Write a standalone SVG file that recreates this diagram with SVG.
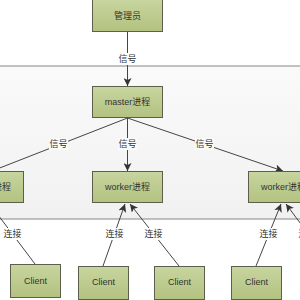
<svg xmlns="http://www.w3.org/2000/svg" width="300" height="300" viewBox="0 0 300 300">
<defs>
<linearGradient id="g" x1="0" y1="0" x2="0" y2="1"><stop offset="0" stop-color="#c7d59f"/><stop offset="1" stop-color="#b3c280"/></linearGradient>
<linearGradient id="band" x1="0" y1="0" x2="0" y2="1"><stop offset="0" stop-color="#fafafa"/><stop offset="1" stop-color="#f1f1f1"/></linearGradient>
<marker id="a" viewBox="0 0 10 10" refX="10" refY="5" markerWidth="8" markerHeight="8" markerUnits="userSpaceOnUse" orient="auto"><path d="M0,0 L10,5 L0,10 L2.5,5 z" fill="#333"/></marker>
<style>
.box{fill:url(#g);stroke:#5e5e4c;stroke-width:1}
.t{font-family:"Liberation Sans","Noto Sans CJK SC",sans-serif;font-size:9px;fill:#333;text-anchor:middle;dominant-baseline:central}
.c{stroke:#444;stroke-width:1;fill:none}
.lb{fill:#fafafa}
.lw{fill:#ffffff}
</style>
</defs>
<rect width="300" height="300" fill="#fff"/>
<rect x="-1" y="66" width="302" height="153" fill="url(#band)" stroke="#9a9a9a" stroke-width="1.2"/>
<g id="connectors">
<line class="c" x1="127.5" y1="32" x2="127.5" y2="86" marker-end="url(#a)"/>
<line class="c" x1="127.5" y1="118" x2="-8" y2="171" marker-end="url(#a)"/>
<line class="c" x1="127.5" y1="118" x2="127.5" y2="171" marker-end="url(#a)"/>
<line class="c" x1="127.5" y1="118" x2="283" y2="171" marker-end="url(#a)"/>
<line class="c" x1="35" y1="264" x2="-11" y2="203" marker-end="url(#a)"/>
<line class="c" x1="103" y1="266" x2="125" y2="204" marker-end="url(#a)"/>
<line class="c" x1="179" y1="266" x2="130" y2="204" marker-end="url(#a)"/>
<line class="c" x1="256" y1="266" x2="281" y2="204" marker-end="url(#a)"/>
<line class="c" x1="332" y1="266" x2="286" y2="204" marker-end="url(#a)"/>
<rect class="lw" x="118" y="53" width="19" height="12"/><text class="t" x="127.5" y="59">信号</text>
<rect class="lb" x="49" y="138" width="19" height="12"/><text class="t" x="58.5" y="144">信号</text>
<rect class="lb" x="118" y="138" width="19" height="12"/><text class="t" x="127.5" y="144">信号</text>
<rect class="lb" x="195" y="138" width="19" height="12"/><text class="t" x="204.5" y="144">信号</text>
<rect class="lw" x="3" y="228" width="19" height="12"/><text class="t" x="12.5" y="234">连接</text>
<rect class="lw" x="105" y="228" width="19" height="12"/><text class="t" x="114.5" y="234">连接</text>
<rect class="lw" x="144" y="228" width="19" height="12"/><text class="t" x="153.5" y="234">连接</text>
<rect class="lw" x="259" y="228" width="19" height="12"/><text class="t" x="268.5" y="234">连接</text>
<rect class="lw" x="298" y="228" width="19" height="12"/><text class="t" x="307.5" y="234">连接</text>
</g>
<g id="admin"><rect class="box" x="92.5" y="-0.5" width="70" height="32"/><text class="t" x="127.5" y="16">管理员</text></g>
<g id="master"><rect class="box" x="92.5" y="86.5" width="70" height="31"/><text class="t" x="127.5" y="102">master进程</text></g>
<g id="worker-left"><rect class="box" x="-46.5" y="171.5" width="70" height="31"/><text class="t" x="-11.5" y="187">worker进程</text></g>
<g id="worker-mid"><rect class="box" x="92.5" y="171.5" width="70" height="31"/><text class="t" x="127.5" y="187">worker进程</text></g>
<g id="worker-right"><rect class="box" x="248.5" y="171.5" width="70" height="31"/><text class="t" x="283.5" y="187">worker进程</text></g>
<g id="client1"><rect class="box" x="10.5" y="264.5" width="50" height="33"/><text class="t" x="35.5" y="281">Client</text></g>
<g id="client2"><rect class="box" x="78.5" y="266.5" width="50" height="33"/><text class="t" x="103.5" y="282">Client</text></g>
<g id="client3"><rect class="box" x="154.5" y="266.5" width="50" height="33"/><text class="t" x="179.5" y="282">Client</text></g>
<g id="client4"><rect class="box" x="231.5" y="266.5" width="50" height="33"/><text class="t" x="256.5" y="282">Client</text></g>
</svg>
